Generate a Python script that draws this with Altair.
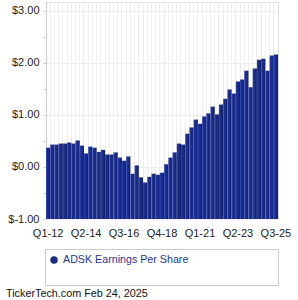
import altair as alt
import pandas as pd

# Data
eps = [0.37, 0.43, 0.43, 0.45, 0.45, 0.47, 0.45, 0.51, 0.41, 0.26,
       0.39, 0.37, 0.29, 0.33, 0.24, 0.24, 0.28, 0.18, 0.12, 0.20,
       -0.13, 0.03, -0.20, -0.30, -0.19, -0.13, -0.15, -0.11, 0.05, 0.18,
       0.28, 0.45, 0.43, 0.64, 0.76, 0.91, 0.83, 0.97, 1.03, 1.16,
       1.01, 1.20, 1.31, 1.49, 1.41, 1.64, 1.68, 1.85, 1.53, 1.89,
       2.06, 2.08, 1.85, 2.14, 2.16]
quarters = [f"Q{i % 4 + 1}-{12 + i // 4}" for i in range(len(eps))]
shown_labels = ["Q1-12", "Q2-14", "Q3-16", "Q4-18", "Q1-21", "Q2-23", "Q3-25"]
y_ticks = [-1, -0.5, 0, 0.5, 1, 1.5, 2, 2.5, 3]
y_floor = -1
legend_label = ["ADSK Earnings Per Share"]
footer_text = ["TickerTech.com  Feb 24, 2025"]

df = pd.DataFrame({"q": quarters, "eps": eps})

FONT = "Liberation Sans"
W, H = 232, 217

label_list = "[" + ",".join(f"'{s}'" for s in shown_labels) + "]"

bar_fill = alt.Gradient(
    gradient="linear",
    stops=[
        alt.GradientStop(color="#3049c0", offset=0),
        alt.GradientStop(color="#1c2e8e", offset=0.3),
        alt.GradientStop(color="#18287f", offset=0.75),
        alt.GradientStop(color="#0e1958", offset=1),
    ],
    x1=0, x2=1, y1=0, y2=0,
)

bars = alt.Chart(df).mark_bar(fill=bar_fill).encode(
    x=alt.X(
        "q:O",
        sort=quarters,
        scale=alt.Scale(paddingInner=0, paddingOuter=0),
        axis=alt.Axis(
            title=None,
            labelExpr=f"indexof({label_list}, datum.value) >= 0 ? datum.value : ''",
            labelAngle=0,
            labelOverlap=False,
            labelFont=FONT,
            labelFontSize=11,
            labelColor="#222222",
            labelPadding=8,
            ticks=False,
            domain=False,
            grid=True,
            gridColor="#eeeeee",
            gridWidth=1,
            bandPosition=0,
        ),
    ),
    y=alt.Y(
        "eps:Q",
        scale=alt.Scale(domain=[-1, 3.17], nice=False, zero=False),
        axis=alt.Axis(
            title=None,
            values=y_ticks,
            labelExpr="datum.value % 1 !== 0 ? '' : (datum.value < 0 ? '$-' + format(-datum.value, '.2f') : '$' + format(datum.value, '.2f'))",
            labelFont=FONT,
            labelFontSize=11,
            labelColor="#222222",
            labelPadding=4,
            tickSize=3,
            tickColor="#cccccc",
            domainColor="#cccccc",
            grid=True,
            gridColor="#eeeeee",
            gridWidth=1.5,
            gridOpacity={"condition": {"test": "datum.value % 1 === 0", "value": 1}, "value": 0},
        ),
    ),
    y2=alt.datum(y_floor),
)

legend_box = alt.Chart(pd.DataFrame({"k": [0]})).mark_rect(
    fill="white", stroke="#cccccc", strokeWidth=1
).encode(
    x=alt.value(-0.5), x2=alt.value(232.5), y=alt.value(247.5), y2=alt.value(283.5)
)

legend_dot = alt.Chart(pd.DataFrame({"k": [0]})).mark_point(
    shape="circle", filled=True, size=55, color="#1a2a85", opacity=1
).encode(x=alt.value(8), y=alt.value(258))

legend_txt = alt.Chart(pd.DataFrame({"t": legend_label})).mark_text(
    align="left", baseline="middle", font=FONT, fontSize=10.7, color="#1f3590"
).encode(x=alt.value(17), y=alt.value(258), text="t:N")

footer = alt.Chart(pd.DataFrame({"t": footer_text})).mark_text(
    align="left", baseline="middle", font=FONT, fontSize=10.8, color="#111111"
).encode(x=alt.value(-40), y=alt.value(291.5), text="t:N")

chart = alt.layer(bars, legend_box, legend_dot, legend_txt, footer).properties(
    width=W,
    height=H,
    autosize=alt.AutoSizeParams(type="none"),
    padding={"left": 46, "top": 2, "right": 20, "bottom": 81},
).configure_view(stroke=None).configure(background="white")

chart.save("out.html", embed_options={"renderer": "svg", "actions": False})
